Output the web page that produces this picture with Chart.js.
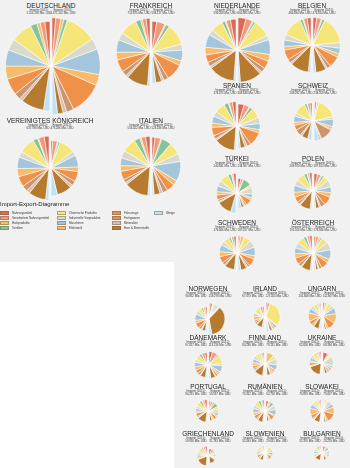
<!DOCTYPE html>
<html><head><meta charset="utf-8">
<script src="https://cdn.jsdelivr.net/npm/chart.js@4.4.1/dist/chart.umd.min.js"></script>
<style>
html,body{margin:0;padding:0;width:350px;height:468px;overflow:hidden;background:#f1f1f1;font-family:"Liberation Sans Narrow","Liberation Sans",Arial,sans-serif;}
#white{position:absolute;left:0;top:262px;width:174px;height:206px;background:#fff;}
.title{position:absolute;font-size:6.5px;line-height:7px;color:#222;white-space:nowrap;transform:translate(-50%,-50%);}
.sub{position:absolute;font-size:2.8px;line-height:3.4px;color:#333;white-space:nowrap;text-align:center;transform:translateX(-50%);}
canvas{position:absolute;}
#lgTitle{position:absolute;left:0;top:201px;font-size:6px;color:#222;white-space:nowrap;}
.lg{position:absolute;font-size:3px;line-height:4px;color:#333;white-space:nowrap;}
.sw{position:absolute;width:9px;height:4px;box-sizing:border-box;border:0.5px solid rgba(120,100,80,0.5);}
</style></head><body>
<div id="white"></div>
<div id="root"></div>
<script>
// ---------- DATA ----------
const categories = ["Nahrungsmittel","Verarbeitete Nahrungsmittel","Holzprodukte","Textilien",
  "Chemische Produkte","Industrielle Vorprodukte","Maschinen","Elektronik",
  "Fahrzeuge","Fertigwaren","Mineralien","Erze & Brennstoffe","Übrige"];
const countryNames = ["DEUTSCHLAND","FRANKREICH","NIEDERLANDE","BELGIEN","VEREINIGTES KÖNIGREICH","ITALIEN",
  "SPANIEN","SCHWEIZ","TÜRKEI","POLEN","SCHWEDEN","ÖSTERREICH",
  "NORWEGEN","IRLAND","UNGARN","DÄNEMARK","FINNLAND","UKRAINE",
  "PORTUGAL","RUMÄNIEN","SLOWAKEI","GRIECHENLAND","SLOWENIEN","BULGARIEN"];
// totals, Mio. USD (2011)
const importTotals = [1254298,715875,599208,466694,637788,556422,374075,208292,240841,209970,176066,191016,
  90852,67473,101668,97617,84286,82608,80291,76312,76859,59958,32043,32376];
const exportTotals = [1472202,596127,660985,476814,473286,523186,308648,234558,134907,187613,187227,178036,
  159278,127453,111947,113216,79131,68394,59537,62758,79007,31743,29031,28229];
// shares per category (%), order as in categories
const DE_imp = [3,3,2,4,13,7,10,8,10,4,2,14,4];
const DE_exp = [2,3,1.5,2,17,6,14,6,18,4,2,3,3];
const FR_imp = [3,3,1.5,4,14,6,10,6,10,4,2,17,2];
const FR_exp = [4,7,1,3,18,5,9,4,14,4,2,5,3];
const NL_imp = [5,4,1,3,11,5,12,7,7,4,2,24,2];
const NL_exp = [7,6,1,2,15,4,13,6,7,4,2,19,2];
const BE_imp = [4,4,1,3,22,6,7,4,11,4,2,20,3];
const BE_exp = [4,5,1,3,30,6,6,4,12,4,2,11,3];
const UK_imp = [4,5,1,4,14,5,10,7,9,5,3,15,3];
const UK_exp = [2,5,1,2,17,5,13,5,11,5,3,16,7];
const IT_imp = [4,4,1.5,5,13,7,7,5,8,3,2,22,2];
const IT_exp = [3,6,1,10,12,8,20,5,8,5,3,6,2];
const ES_imp = [4,4,1,5,12,6,8,5,10,4,2,24,2];
const ES_exp = [8,7,1,4,13,8,8,4,18,5,3,6,3];
const CH_imp = [3,4,1,4,20,5,10,5,8,10,3,10,7];
const CH_exp = [1,4,0.5,2,33,4,12,4,2,20,2,2,8];
const TR_imp = [4,2,1,5,14,8,9,5,7,3,2,22,8];
const TR_exp = [6,5,1,18,6,14,8,5,13,4,3,5,7];
const PL_imp = [4,3,1,5,14,9,11,8,9,4,2,17,3];
const PL_exp = [6,6,2,4,9,12,10,8,15,8,3,6,3];
const SE_imp = [4,4,1,4,11,7,13,9,12,5,2,18,3];
const SE_exp = [2,3,6,1,11,13,15,6,13,4,3,10,5];
const AT_imp = [4,4,1.5,5,12,9,10,7,11,5,2,15,3];
const AT_exp = [3,5,3,3,12,14,17,7,13,5,2,4,3];
const NO_imp = [4,4,1,5,9,9,15,7,13,6,3,8,4];
const NO_exp = [2,6,0.5,0.5,3,5,3,1,1,1,1,70,6];
const IE_imp = [4,8,1,4,16,5,8,12,6,6,3,17,6];
const IE_exp = [3,6,0.5,1,60,2,6,5,1,7,1,1,6];
const HU_imp = [2,3,1,3,10,8,11,20,9,4,2,13,5];
const HU_exp = [4,4,1,2,10,7,14,22,18,4,1,4,3];
const DK_imp = [5,7,1,6,12,7,11,9,8,6,2,12,4];
const DK_exp = [8,12,1,4,20,5,15,6,3,5,2,11,4];
const FI_imp = [3,5,2,4,12,9,11,9,8,5,3,25,4];
const FI_exp = [1,2,20,1,10,18,17,9,4,3,2,10,3];
const UA_imp = [3,5,1,4,13,8,10,5,8,3,1,36,3];
const UA_exp = [15,5,2,1,7,30,7,3,6,1,10,8,5];
const PT_imp = [7,6,2,7,13,7,8,6,10,4,2,24,4];
const PT_exp = [5,8,8,14,10,12,9,6,11,4,3,8,2];
const RO_imp = [4,4,1,8,13,10,12,8,10,4,2,14,4];
const RO_exp = [8,3,6,10,5,14,18,6,14,4,3,7,2];
const SK_imp = [3,4,1,4,10,8,12,20,11,4,2,17,4];
const SK_exp = [2,3,2,3,5,13,11,20,26,5,2,5,3];
const GR_imp = [6,6,1,6,15,6,6,4,6,4,2,35,3];
const GR_exp = [12,12,1,7,10,12,5,3,2,3,3,30,2];
const SI_imp = [4,5,2,5,14,13,10,7,12,5,3,16,4];
const SI_exp = [2,4,4,4,18,15,15,8,16,5,2,5,2];
const BG_imp = [4,5,1,9,12,10,12,6,6,3,2,27,3];
const BG_exp = [12,5,3,12,7,22,9,4,2,3,6,12,3];

const importMix = [DE_imp,FR_imp,NL_imp,BE_imp,UK_imp,IT_imp,ES_imp,CH_imp,TR_imp,PL_imp,SE_imp,AT_imp,
  NO_imp,IE_imp,HU_imp,DK_imp,FI_imp,UA_imp,PT_imp,RO_imp,SK_imp,GR_imp,SI_imp,BG_imp];
const exportMix = [DE_exp,FR_exp,NL_exp,BE_exp,UK_exp,IT_exp,ES_exp,CH_exp,TR_exp,PL_exp,SE_exp,AT_exp,
  NO_exp,IE_exp,HU_exp,DK_exp,FI_exp,UA_exp,PT_exp,RO_exp,SK_exp,GR_exp,SI_exp,BG_exp];

// ---------- STYLE / LAYOUT ----------
const palette = ["#d96b55","#ef9b7b","#f3c069","#86c29a","#f6e67a","#d9d9cd","#a4c6dd","#f8bb6b",
  "#ef9148","#c99670","#dcbcae","#b67b2e","#bfe1f5"];
const explodeOffset = [0,0,0,0,0,0,0,0,0,0,0,0,1.5]; // "Übrige" slice pulled out slightly
// [centerX, titleY, pieTop]
const layout = [[51,5,18],[151,5,18],[237,5,18],[312,5,18],[50,120,136],[151,120,136],
  [237,85,102],[313,85,102],[237,158,173],[313,158,173],[237,222,236],[313,222,236],
  [208,288,303],[265,288,303],[322,288,303],[208,337,352],[265,337,352],[322,337,352],
  [208,386,400],[265,386,400],[322,386,400],[208,433,446],[265,433,446],[322,433,446]];
const radiusScale = 1.257; // px per sqrt(bn USD)

const root = document.getElementById('root');
function fmt(n){ return n.toString().replace(/\B(?=(\d{3})+(?!\d))/g,'.') + ' Mio. USD'; }
function radiusOf(total){ return radiusScale*Math.sqrt(total/1000); }

function half(cx, cy, r, values, side){
  const pad = 4;
  const size = 2*Math.ceil(r+pad);
  const cv = document.createElement('canvas');
  cv.width = size; cv.height = size;
  cv.style.width = size+'px'; cv.style.height = size+'px';
  const shift = side==='L' ? -1 : 1;
  cv.style.left = (cx - size/2 + shift) + 'px';
  cv.style.top = (cy - size/2) + 'px';
  root.appendChild(cv);
  const sum = values.reduce((a,b)=>a+b,0);
  let data, colors, bw, off;
  if(side==='R'){
    data = values.concat([sum]);
    colors = palette.concat(['rgba(0,0,0,0)']);
    bw = values.map(()=>0.6).concat([0]);
    off = explodeOffset.concat([0]);
  } else {
    data = [sum].concat(values.slice().reverse());
    colors = ['rgba(0,0,0,0)'].concat(palette.slice().reverse());
    bw = [0].concat(values.map(()=>0.6));
    off = [0].concat(explodeOffset.slice().reverse());
  }
  new Chart(cv, {
    type:'pie',
    data:{labels: side==='R' ? categories.concat(['']) : [''].concat(categories.slice().reverse()),
      datasets:[{data, backgroundColor:colors, borderColor:'rgba(255,255,255,0.9)', borderWidth:bw, offset:off}]},
    options:{responsive:false, animation:false, devicePixelRatio:1, events:[], radius:r, rotation:0,
      layout:{padding:0}, plugins:{legend:{display:false}, tooltip:{enabled:false}}}
  });
}

countryNames.forEach((name,i)=>{
  const [cx, ty, top] = layout[i];
  const rI = radiusOf(importTotals[i]);
  const rE = radiusOf(exportTotals[i]);
  const cy = Math.round(top + Math.max(rI, rE));
  const t = document.createElement('div');
  t.className='title'; t.textContent=name; t.style.left=cx+'px'; t.style.top=ty+'px';
  root.appendChild(t);
  const s1 = document.createElement('div');
  s1.className='sub'; s1.innerHTML='Importe (2011):<br>'+fmt(importTotals[i]);
  s1.style.left=(cx-12)+'px'; s1.style.top=(ty+4)+'px'; root.appendChild(s1);
  const s2 = document.createElement('div');
  s2.className='sub'; s2.innerHTML='Exporte (2011):<br>'+fmt(exportTotals[i]);
  s2.style.left=(cx+12)+'px'; s2.style.top=(ty+4)+'px'; root.appendChild(s2);
  half(cx, cy, rI, importMix[i], 'L');
  half(cx, cy, rE, exportMix[i], 'R');
});

// legend
const lt = document.createElement('div'); lt.id='lgTitle'; lt.textContent='Import-Export-Diagramme'; root.appendChild(lt);
const colX = [0,57,112,154];
categories.forEach((c,i)=>{
  const col = Math.floor(i/4), row = i%4;
  const x = colX[col], y = 211 + row*5;
  const sw = document.createElement('div'); sw.className='sw';
  sw.style.left=x+'px'; sw.style.top=y+'px'; sw.style.background=palette[i]; root.appendChild(sw);
  const tx = document.createElement('div'); tx.className='lg'; tx.textContent=c;
  tx.style.left=(x+12)+'px'; tx.style.top=y+'px'; root.appendChild(tx);
});
</script>
</body></html>
